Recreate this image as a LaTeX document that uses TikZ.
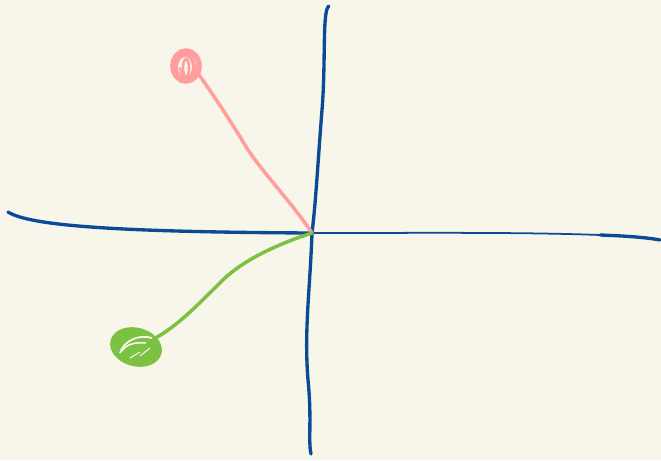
\documentclass[tikz,border=0pt]{standalone}
\usetikzlibrary{calc}
\definecolor{paper}{HTML}{F8F6EA}
\definecolor{axisblue}{HTML}{0B4A97}
\definecolor{pinkline}{HTML}{FF9E9C}
\definecolor{greenline}{HTML}{7CC242}
\tikzset{
  axisline/.style={axisblue, line width=1.9pt, line cap=round, line join=round},
  pinkstroke/.style={pinkline, line width=2pt, line cap=round, line join=round},
  greenstroke/.style={greenline, line width=2pt, line cap=round, line join=round}
}
\begin{document}
\begin{tikzpicture}[x=0.02cm, y=-0.02cm]
    % Тло
    \fill[paper] (0,0) rectangle (661,460);
    \useasboundingbox (0,0) rectangle (661,460);

    % Точки
    \coordinate (O) at (312,233);
    \coordinate (P) at (186,66);
    \coordinate (G) at (136,347);

    % Горизонтальна вісь
    \draw[axisline] (8,212) .. controls (30,226) and (120,232) .. (O);
    \draw[axisblue, line width=1pt] (O) .. controls (420,233) and (520,232) .. (600,235);
    \draw[axisline] (600,235) .. controls (630,236) and (650,238) .. (660,240);

    % Вертикальна вісь
    \draw[axisline] (329,6) .. controls (322,10) and (326,60) .. (322,110)
        .. controls (318,160) and (316,200) .. (O);
    \draw[axisline] (O) .. controls (310,290) and (304,330) .. (308,380)
        .. controls (312,420) and (308,440) .. (311,454);

    % Рожева лінія
    \draw[pinkstroke] (O) .. controls (290,200) and (260,170) .. (245,145)
        .. controls (230,120) and (210,90) .. (197,72);
    \draw[pinkstroke, line width=3.2pt] (P) ellipse (13 and 15);
    \draw[pinkstroke, line width=2.2pt] (185,67) ellipse (9 and 12);
    \draw[pinkstroke, line width=1.5pt] (186,68) ellipse (3 and 9);
    \draw[pinkstroke, line width=1.3pt] (180,68) -- (182,76);

    % Зелена лінія
    \draw[greenstroke] (O) .. controls (290,240) and (250,255) .. (225,278)
        .. controls (200,302) and (180,325) .. (152,340);
    \fill[greenline, rotate around={-15:(G)}] (G) ellipse (24 and 17);
    \draw[greenstroke, line width=2.6pt, rotate around={-15:(G)}] (G) ellipse (24 and 17);
    \draw[paper, line width=1pt] (120,353) .. controls (124,340) and (140,334) .. (152,338);
    \draw[paper, line width=0.9pt] (122,351) .. controls (126,344) and (136,342) .. (146,343);
    \draw[paper, line width=0.6pt] (140,356) -- (150,348);
    \draw[paper, line width=0.6pt] (130,358) -- (140,352);
\end{tikzpicture}
\end{document}
